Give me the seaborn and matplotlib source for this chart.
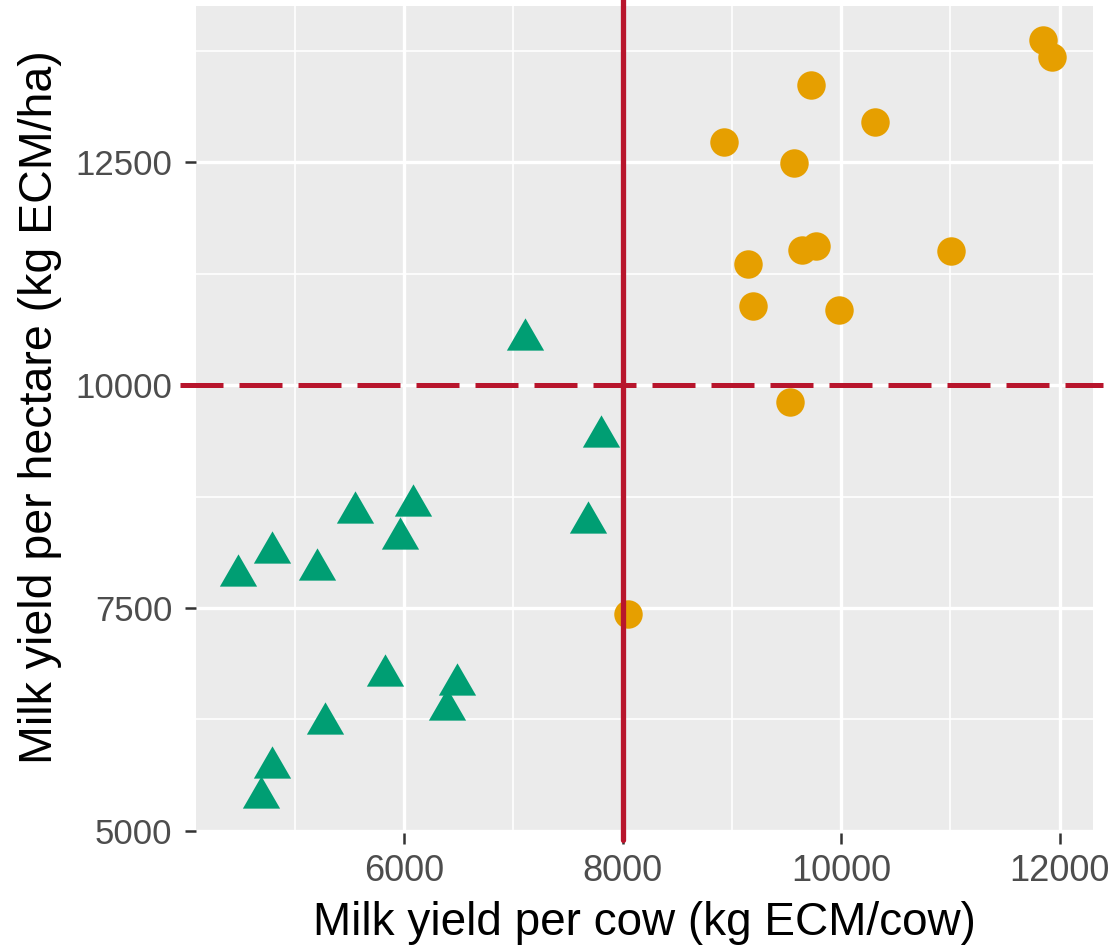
import numpy as np
import pandas as pd
import matplotlib
matplotlib.use("Agg")
import matplotlib.pyplot as plt
import seaborn as sns

# Farms with high milk yield per cow (circles)
high_cow_yield = [11849, 11931, 9721, 10312, 8928, 9568, 9639, 9769, 11005,
                  9147, 9196, 9977, 9532, 8049]
high_ha_yield = [13874, 13680, 13369, 12957, 12726, 12497, 11517, 11562, 11510,
                 11360, 10889, 10844, 9808, 7432]

# Farms with lower milk yield per cow (triangles)
low_cow_yield = [7802, 5554, 6080, 5963, 7681, 4792, 4478, 5201, 5823, 6482,
                 6391, 5274, 4792, 4689, 7110]
low_ha_yield = [9486, 8633, 8708, 8341, 8521, 8184, 7922, 7997, 6804, 6699,
                6419, 6268, 5771, 5434, 10574]

group_names = ["high", "low"]
cow_threshold = 8000
ha_threshold = 10000

x_ticks = [6000, 8000, 10000, 12000]
y_ticks = [5000, 7500, 10000, 12500]
x_minor = [5000, 7000, 9000, 11000]
y_minor = [6250, 8750, 11250, 13750]

df = pd.DataFrame({
    "cow": high_cow_yield + low_cow_yield,
    "ha": high_ha_yield + low_ha_yield,
    "group": [group_names[0]] * len(high_cow_yield) + [group_names[1]] * len(low_cow_yield),
})

sns.set_theme(style="darkgrid")
plt.rcParams["font.family"] = ["Liberation Sans", "DejaVu Sans"]

fig = plt.figure(figsize=(11.19, 9.52), dpi=100)
ax = fig.add_axes([196 / 1119, 1 - 833 / 952, (1093 - 196) / 1119, (833 - 6) / 952])
ax.set_facecolor("#EBEBEB")

# equilateral triangle marker
tri = [(-1.0, -0.866), (1.0, -0.866), (0.0, 0.866)]

sub_hi = df[df.group == "high"]
sub_lo = df[df.group == "low"]
sns.scatterplot(data=sub_hi, x="cow", y="ha", ax=ax, color="#E69F00",
                marker="o", s=420, linewidth=0, legend=False, zorder=3)
sns.scatterplot(data=sub_lo, x="cow", y="ha", ax=ax, color="#009E73",
                marker=tri, s=720, linewidth=0, legend=False, zorder=3)

red = "#B8152C"
ax.axvline(cow_threshold, color=red, lw=3.8, ymin=-0.009, ymax=1.008,
           clip_on=False, zorder=4)
ax.axhline(ha_threshold, color=red, lw=3.6, ls=(0, (8.6, 3.2)),
           xmin=-0.018, xmax=1.011, clip_on=False, zorder=4)

ax.set_xlim(4097, 12304)
ax.set_ylim(4974, 14256)
ax.set_xticks(x_ticks)
ax.set_yticks(y_ticks)
ax.set_xticks(x_minor, minor=True)
ax.set_yticks(y_minor, minor=True)
ax.set_xticklabels([str(v) for v in x_ticks])
ax.set_yticklabels([str(v) for v in y_ticks])

ax.grid(which="major", color="white", lw=2.4)
ax.grid(which="minor", color="white", lw=1.2)
ax.set_axisbelow(True)
for sp in ax.spines.values():
    sp.set_visible(False)

ax.tick_params(axis="both", which="major", bottom=True, left=True, length=8,
               width=1.8, color="#333333", labelcolor="#4D4D4D")
ax.tick_params(axis="x", which="major", labelsize=26, pad=7)
ax.tick_params(axis="y", which="major", labelsize=25, pad=9)
ax.tick_params(axis="both", which="minor", length=0)

ax.set_xlabel("Milk yield per cow (kg ECM/cow)", fontsize=33, color="black", labelpad=9)
ax.set_ylabel("Milk yield per hectare (kg ECM/ha)", fontsize=33.5, color="black", labelpad=10)
ax.yaxis.label.set_y(0.515)

fig.savefig("out.png", dpi=100, facecolor="white")
